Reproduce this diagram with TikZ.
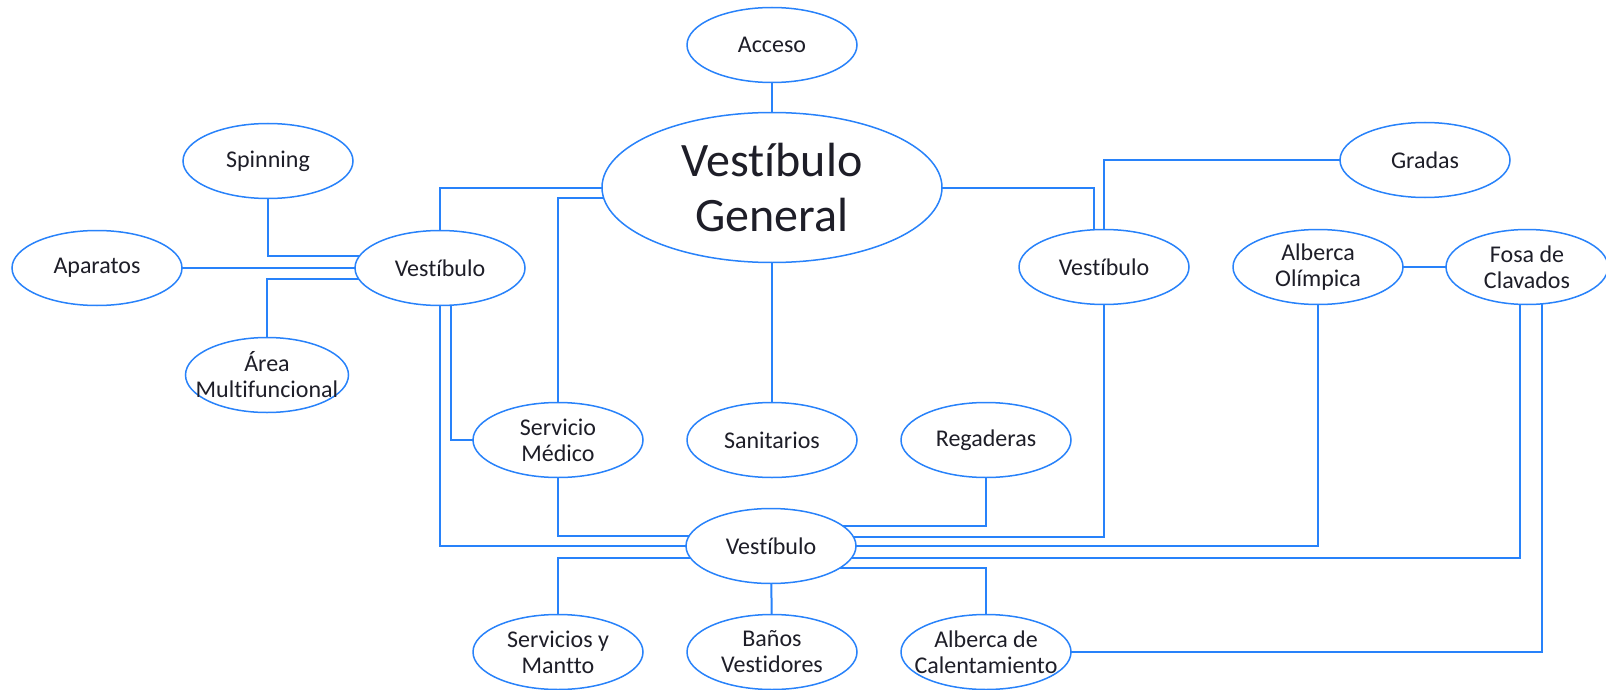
\documentclass[tikz,border=0pt]{standalone}
\usepackage{fontspec}
\setmainfont[Ligatures=NoCommon]{Carlito}
\usetikzlibrary{shapes.geometric,calc,backgrounds}
\definecolor{lineblue}{RGB}{40,130,250}
\definecolor{txt}{RGB}{30,30,40}
\tikzset{
  room/.style={ellipse, draw=lineblue, line width=1.5pt, fill=white, inner sep=0pt,
    minimum width=170pt, minimum height=75pt},
  bigroom/.style={room, minimum width=340pt, minimum height=150pt},
  lbl/.style={align=center, text=txt, inner sep=0pt, font=\fontsize{24}{26}\selectfont},
  biglbl/.style={lbl, font=\fontsize{48}{55}\selectfont},
  link/.style={draw=lineblue, line width=2pt}
}
\begin{document}
\begin{tikzpicture}[x=1pt,y=-1pt]
\useasboundingbox (0,0) rectangle (1606,690);
\node[room, label={[lbl]center:Acceso}] (acc) at (772,45) {};
\node[bigroom, label={[biglbl]center:{Vestíbulo\\General}}] (vg) at (772,187.5) {};
\node[room, label={[lbl]center:Spinning}] (spin) at (268,161) {};
\node[room, label={[lbl]center:Aparatos}] (apar) at (97,268) {};
\node[room, minimum width=163pt, label={[lbl]center:{Área\\Multifuncional}}] (area) at (267,375) {};
\node[room, label={[lbl]center:Vestíbulo}] (vl) at (440,268) {};
\node[room, label={[lbl]center:Vestíbulo}] (vr) at (1104,267) {};
\node[room, label={[lbl]center:Vestíbulo}] (vb) at (771,546) {};
\node[room, label={[lbl]center:{Servicio\\Médico}}] (sm) at (558,440) {};
\node[room, label={[lbl]center:Sanitarios}] (san) at (772,440) {};
\node[room, label={[lbl]center:Regaderas}] (reg) at (986,440) {};
\node[room, label={[lbl]center:Gradas}] (grad) at (1425,160) {};
\node[room, label={[lbl]center:{Alberca\\Olímpica}}] (ao) at (1318,267) {};
\node[room, minimum width=162pt, label={[lbl]center:{Fosa de\\Clavados}}] (fc) at (1527,267) {};
\node[room, label={[lbl]center:{Servicios y\\Mantto}}] (sym) at (558,652) {};
\node[room, label={[lbl]center:{Baños\\Vestidores}}] (bv) at (772,652) {};
\node[room, label={[lbl]center:{Alberca de\\Calentamiento}}] (ac) at (986,652) {};
\begin{scope}[on background layer]
\draw[link] (acc.center) -- (vg.center);
\draw[link] (vg.center) -| (vl.center);
\draw[link] ($(vg.center)+(0,10)$) -| (sm.center);
\draw[link] (vg.center) -| ($(vr.center)+(-10,0)$);
\draw[link] (vr.center) |- (grad.center);
\draw[link] (vg.center) -- (san.center);
\draw[link] (spin.center) |- ($(vl.center)+(0,-12)$);
\draw[link] (apar.center) -- (vl.center);
\draw[link] (area.center) |- ($(vl.center)+(0,11)$);
\draw[link] (vl.center) |- (vb.center);
\draw[link] ($(vl.center)+(11,0)$) |- (sm.center);
\draw[link] (sm.center) |- ($(vb.center)+(0,-10)$);
\draw[link] ($(vb.center)+(0,12)$) -| (sym.center);
\draw[link] (vb.center) -- (bv.center);
\draw[link] (reg.center) |- ($(vb.center)+(0,-20)$);
\draw[link] (vr.center) |- ($(vb.center)+(0,-9)$);
\draw[link] (ao.center) |- (vb.center);
\draw[link] (ao.center) -- (fc.center);
\draw[link] ($(fc.center)+(-7,0)$) |- ($(vb.center)+(0,12)$);
\draw[link] (ac.center) |- ($(vb.center)+(0,22)$);
\draw[link] ($(fc.center)+(15,0)$) |- (ac.center);
\end{scope}
\end{tikzpicture}
\end{document}
